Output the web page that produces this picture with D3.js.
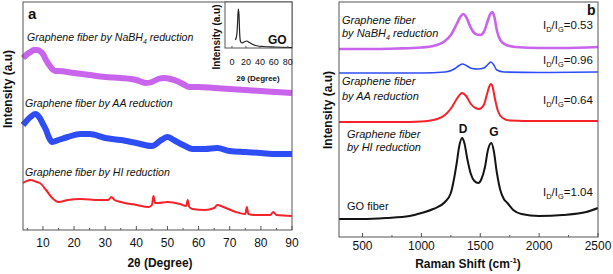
<!DOCTYPE html>
<html lang="en">
<head>
<meta charset="UTF-8">
<title>Graphene fiber XRD and Raman</title>
<script src="https://d3js.org/d3.v7.min.js"></script>
<style>
  body { margin: 0; background: #fff; }
  text { font-family: "Liberation Sans", Arial, sans-serif; fill: #111; }
</style>
</head>
<body>
<script>
// ---- panel a : XRD, [2theta, intensity a.u.] ----
var xrdNaBH4 = [[3.6,172],[5,176],[6,178],[7,180],[8,180],[9,179],[10,176],[11,170],[12,165],[13,161],[14,159],[15,159],
                [20,157],[25,155],[30,153],[35,152],[40,150],[43,147],[45,148],[47,151],[49,152],[51,151],[53,149],
                [55,146],[57,143],[60,143],[65,142],[70,141],[75,140],[80,139],[85,138],[90,137]];
var xrdAA = [[3.6,105],[5,110],[6,113],[7.5,116],[9,112],[10,106],[11,100],[12,92],[13,88],[15,90],[18,93],[22,96],
             [25,96],[30,92],[35,90],[40,87],[45,84],[48,90],[50,93],[52,90],[55,85],[58,81],[62,81],[66,82],
             [70,79],[75,78],[80,77],[85,76],[90,76]];
var xrdHI = [[3.6,47],[6,50],[8,48],[9,47],[11,40],[13,32],[15,28],[18,30],[22,31],[28,30],[31,30],[32,33],[33,30],
             [35,28],[40,25],[44,23],[45,25],[45.5,34],[46,27],[47,27],[50,28],[54,26],[56,24],[56.5,30],[57,23],
             [58,21],[62,20],[65,22],[66,25],[68,23],[72,18],[75,16],[75.5,23],[76,16],[78,15],[83,15],[84,18],
             [85,15],[90,14]];
var xrdGO = [[5,8],[7,14],[8,25],[9,39],[10,34],[11,15],[12,7],[14,5],[17,6],[21,7],[25,5.5],[30,3.5],[37,2],
             [45,1.5],[60,1],[86,0.5]];
var xrdTicks = [10,20,30,40,50,60,70,80,90];
var insetTicks = [0,20,40,60,80];

// ---- panel b : Raman, [shift cm-1, intensity a.u.] ----
var ramanNaBH4 = [[300,188],[500,188],[800,188.5],[1000,189.5],[1100,191],[1200,196],[1250,202],[1300,213],
                  [1330,220],[1355,223],[1380,220],[1420,209],[1460,203],[1500,202],[1530,205],[1560,215],
                  [1585,223],[1602,225],[1620,220],[1640,207],[1670,197],[1720,192],[1800,190],[2000,189],
                  [2200,189],[2500,190]];
var ramanBlue = [[300,164],[1000,164],[1200,165],[1280,168],[1320,171.5],[1350,173],[1380,171.5],[1430,168.5],
                 [1480,168],[1530,169],[1560,172],[1590,175],[1615,172],[1640,167],[1700,165],[2000,164.5],
                 [2500,165]];
var ramanRed = [[300,115],[800,115],[1000,115.5],[1100,117],[1200,122],[1260,130],[1300,138],[1345,144],
                [1380,141],[1420,133],[1460,129],[1490,128],[1530,132],[1555,142],[1575,150],[1590,153],
                [1605,150],[1625,138],[1650,126],[1690,119],[1750,116.5],[2000,116],[2500,116]];
var ramanGO = [[300,18],[500,18],[700,19],[900,21],[1000,24],[1100,28],[1200,35],[1250,44],[1280,60],[1300,74],
               [1320,90],[1347,99],[1365,94],[1390,78],[1420,63],[1450,56],[1483,54],[1510,58],[1540,70],
               [1565,87],[1594,94],[1615,86],[1640,65],[1670,47],[1700,38],[1730,34],[1780,27],[1850,23],
               [2000,21],[2200,22],[2400,25],[2500,29]];
var ramanTicks = [500,1000,1500,2000,2500];
var ratios = ["0.53","0.96","0.64","1.04"];

var W = 613, H = 274;
var svg = d3.select("body").append("svg").attr("width", W).attr("height", H);

var purple = "#c964ec", blue = "#2f4df5", red = "#f5222a", black = "#141414";

// rich text with sub/superscript pieces
function rich(g, x, y, parts, size, extra) {
    var t = g.append("text").attr("x", x).attr("y", y).style("font-size", size + "px");
    if (extra) extra(t);
    parts.forEach(function(p) {
        var s = t.append("tspan").text(p[0]);
        if (p[1] == "sub") s.attr("dy", size * 0.3).style("font-size", (size * 0.65) + "px");
        else if (p[1] == "sup") s.attr("dy", -size * 0.45).style("font-size", (size * 0.65) + "px");
        if (p[1]) {
            // next piece goes back to baseline
            p.back = p[1] == "sub" ? -size * 0.3 : size * 0.45;
        }
    });
    // fix baselines after sub/sup
    var spans = t.selectAll("tspan").nodes();
    for (var i = 1; i < parts.length; i++) {
        if (parts[i - 1][1] && !parts[i][1]) d3.select(spans[i]).attr("dy", parts[i - 1].back);
    }
    return t;
}
function italic(t) { t.style("font-style", "italic"); }
function bold(t) { t.style("font-weight", "bold"); }

// ================= panel a =================
var xA = d3.scaleLinear().domain([3.6, 90]).range([23, 292]);
var yA = d3.scaleLinear().domain([0, 228]).range([230, 2]);
var lineA = d3.line().x(function(d) { return xA(d[0]); }).y(function(d) { return yA(d[1]); })
              .curve(d3.curveMonotoneX);

var ga = svg.append("g");
ga.append("path").datum(xrdNaBH4).attr("d", lineA).attr("fill", "none")
  .attr("stroke", purple).attr("stroke-width", 6).attr("stroke-linejoin", "round");
ga.append("path").datum(xrdAA).attr("d", lineA).attr("fill", "none")
  .attr("stroke", blue).attr("stroke-width", 6).attr("stroke-linejoin", "round");
ga.append("path").datum(xrdHI).attr("d", lineA).attr("fill", "none")
  .attr("stroke", red).attr("stroke-width", 2);

// ticks a
var minorA = d3.range(5, 90, 10);
ga.selectAll(".tkA").data(xrdTicks).join("line")
  .attr("x1", function(d) { return xA(d); }).attr("x2", function(d) { return xA(d); })
  .attr("y1", 230).attr("y2", 226).attr("stroke", "#555");
ga.selectAll(".mtA").data(minorA).join("line")
  .attr("x1", function(d) { return xA(d); }).attr("x2", function(d) { return xA(d); })
  .attr("y1", 230).attr("y2", 228).attr("stroke", "#555");
ga.selectAll(".tlA").data(xrdTicks).join("text")
  .attr("x", function(d) { return xA(d); }).attr("y", 247).attr("text-anchor", "middle")
  .style("font-size", "12px").text(function(d) { return d; });
ga.append("rect").attr("x", 23).attr("y", 2).attr("width", 269).attr("height", 228)
  .attr("fill", "none").attr("stroke", "#555").attr("stroke-width", 1);

ga.append("text").attr("x", 160).attr("y", 267).attr("text-anchor", "middle")
  .style("font-size", "12px").style("font-weight", "bold").text("2\u03b8 (Degree)");
ga.append("text").attr("transform", "translate(12,89) rotate(-90)").attr("text-anchor", "middle")
  .style("font-size", "12px").style("font-weight", "bold").text("Intensity (a.u)");
ga.append("text").attr("x", 28).attr("y", 19).style("font-size", "15px").style("font-weight", "bold").text("a");

rich(ga, 27, 41, [["Graphene fiber by NaBH"], ["4", "sub"], [" reduction"]], 10.6, italic);
rich(ga, 25, 107, [["Graphene fiber by AA reduction"]], 10.6, italic);
rich(ga, 25, 176, [["Graphene fiber by HI reduction"]], 10.6, italic);

// inset
var xI = d3.scaleLinear().domain([-10, 86]).range([225, 292]);
var yI = d3.scaleLinear().domain([0, 46]).range([48, 2]);
var lineI = d3.line().x(function(d) { return xI(d[0]); }).y(function(d) { return yI(d[1]); })
              .curve(d3.curveMonotoneX);
var gi = svg.append("g");
gi.append("rect").attr("x", 225).attr("y", 2).attr("width", 67).attr("height", 46)
  .attr("fill", "#fff").attr("stroke", "#555");
gi.append("path").datum(xrdGO).attr("d", lineI).attr("fill", "none")
  .attr("stroke", "#222").attr("stroke-width", 1.2);
gi.selectAll(".tkI").data(insetTicks).join("line")
  .attr("x1", function(d) { return xI(d); }).attr("x2", function(d) { return xI(d); })
  .attr("y1", 48).attr("y2", 46).attr("stroke", "#555");
gi.selectAll(".tlI").data(insetTicks).join("text")
  .attr("x", function(d) { return xI(d); }).attr("y", 65).attr("text-anchor", "middle")
  .style("font-size", "9px").text(function(d) { return d; });
gi.append("text").attr("x", 258).attr("y", 81).attr("text-anchor", "middle")
  .style("font-size", "8px").style("font-weight", "bold").text("2\u03b8 (Degree)");
gi.append("text").attr("transform", "translate(220,37) rotate(-90)").attr("text-anchor", "middle")
  .style("font-size", "10px").style("font-weight", "bold").text("Intensity (a.u)");
gi.append("text").attr("x", 268).attr("y", 44).style("font-size", "12px").style("font-weight", "bold").text("GO");

// ================= panel b =================
var xB = d3.scaleLinear().domain([300, 2500]).range([339, 598]);
var yB = d3.scaleLinear().domain([0, 235]).range([237, 2]);
var lineB = d3.line().x(function(d) { return xB(d[0]); }).y(function(d) { return yB(d[1]); })
              .curve(d3.curveMonotoneX);
var gb = svg.append("g");
[[ramanNaBH4, purple, 2.6], [ramanBlue, blue, 1.6], [ramanRed, red, 2], [ramanGO, black, 2]].forEach(function(s) {
    gb.append("path").datum(s[0]).attr("d", lineB).attr("fill", "none")
      .attr("stroke", s[1]).attr("stroke-width", s[2]).attr("stroke-linejoin", "round");
});

var minorB = d3.range(750, 2500, 500);
gb.selectAll(".tkB").data(ramanTicks).join("line")
  .attr("x1", function(d) { return xB(d); }).attr("x2", function(d) { return xB(d); })
  .attr("y1", 237).attr("y2", 233).attr("stroke", "#555");
gb.selectAll(".mtB").data(minorB).join("line")
  .attr("x1", function(d) { return xB(d); }).attr("x2", function(d) { return xB(d); })
  .attr("y1", 237).attr("y2", 235).attr("stroke", "#555");
gb.selectAll(".tlB").data(ramanTicks).join("text")
  .attr("x", function(d) { return xB(d); }).attr("y", 250).attr("text-anchor", "middle")
  .style("font-size", "12px").text(function(d) { return d; });
gb.append("rect").attr("x", 339).attr("y", 2).attr("width", 259).attr("height", 235)
  .attr("fill", "none").attr("stroke", "#555").attr("stroke-width", 1);

rich(gb, 468, 268, [["Raman Shift (cm"], ["-1", "sup"], [")"]], 12, function(t) {
    bold(t); t.attr("text-anchor", "middle");
});
gb.append("text").attr("transform", "translate(332,110) rotate(-90)").attr("text-anchor", "middle")
  .style("font-size", "12px").style("font-weight", "bold").text("Intensity (a.u)");
gb.append("text").attr("x", 587).attr("y", 15).style("font-size", "14px").style("font-weight", "bold").text("b");

rich(gb, 342, 24, [["Graphene fiber"]], 11, italic);
rich(gb, 342, 37, [["by NaBH"], ["4", "sub"], [" reduction"]], 11, italic);
rich(gb, 342, 85, [["Graphene fiber"]], 11, italic);
rich(gb, 342, 100, [["by AA reduction"]], 11, italic);
rich(gb, 347, 138, [["Graphene fiber"]], 11, italic);
rich(gb, 347, 151, [["by HI reduction"]], 11, italic);
gb.append("text").attr("x", 347).attr("y", 210).style("font-size", "11px").text("GO fiber");

var ratioY = [29, 64, 104, 196];
ratios.forEach(function(r, i) {
    rich(gb, 543, ratioY[i], [["I"], ["D", "sub"], ["/I"], ["G", "sub"], ["=" + r]], 11.5);
});
gb.append("text").attr("x", 463).attr("y", 133).attr("text-anchor", "middle")
  .style("font-size", "12px").style("font-weight", "bold").text("D");
gb.append("text").attr("x", 494).attr("y", 136).attr("text-anchor", "middle")
  .style("font-size", "12px").style("font-weight", "bold").text("G");
</script>
</body>
</html>
